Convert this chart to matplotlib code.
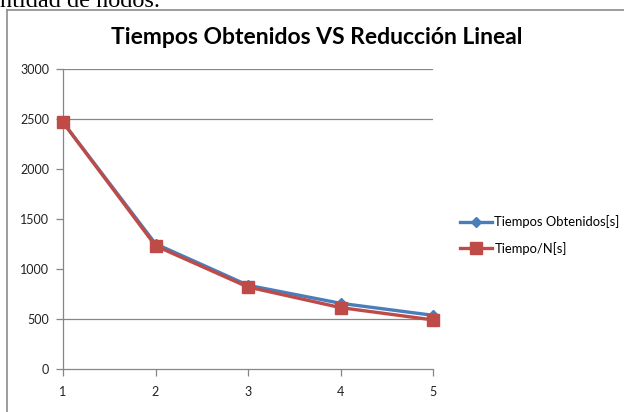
import matplotlib
matplotlib.use("Agg")
import matplotlib.pyplot as plt
from matplotlib.lines import Line2D

# Data
nodos = [1, 2, 3, 4, 5]
tiempos_obtenidos = [2470, 1255, 840, 660, 540]
tiempo_n = [2470, 1235, 823, 617, 494]
y_ticks = [0, 500, 1000, 1500, 2000, 2500, 3000]
grid_levels = [500, 2500, 3000]

W, H = 624, 412
fig = plt.figure(figsize=(W / 100, H / 100), dpi=100)
fig.patch.set_facecolor("white")

ui_font = ["Lato", "DejaVu Sans"]

# Surrounding document text and chart frame
fig.text(0 / W, 1 - 7 / H, "ntidad de nodos.", family="Liberation Serif",
         fontsize=17.5, va="baseline", ha="left", color="black")
frame_color = "#8c8c8c"
fig.add_artist(Line2D([7 / W, 1.0], [1 - 10 / H, 1 - 10 / H],
                      transform=fig.transFigure, color=frame_color, lw=1.2))
fig.add_artist(Line2D([7 / W, 7 / W], [0, 1 - 10 / H],
                      transform=fig.transFigure, color=frame_color, lw=1.2))

ax = fig.add_axes([63 / W, (H - 369.3) / H, (433 - 63) / W, 300 / H])
ax.set_xlim(1, 5)
ax.set_ylim(0, 3000)

for g in grid_levels:
    ax.axhline(g, color="#868686", lw=0.9, zorder=1)

ax.plot(nodos, tiempos_obtenidos, color="#4A7EBB", lw=2.4, marker="D",
        markersize=5.5, markeredgecolor="#4A7EBB", clip_on=False, zorder=3,
        label="Tiempos Obtenidos[s]")
ax.plot(nodos, tiempo_n, color="#BE4B48", lw=2.4, marker="s",
        markersize=8, markeredgecolor="#BE4B48", clip_on=False, zorder=4,
        label="Tiempo/N[s]")

for side in ("top", "right"):
    ax.spines[side].set_visible(False)
for side in ("left", "bottom"):
    ax.spines[side].set_color("#868686")
    ax.spines[side].set_linewidth(0.9)

ax.set_xticks(nodos)
ax.set_yticks(y_ticks)
ax.tick_params(axis="both", colors="#868686", length=5, width=0.9,
               direction="out", labelcolor="#222222", labelsize=9)
ax.tick_params(axis="y", pad=5)
ax.tick_params(axis="x", pad=7)
for lbl in ax.get_xticklabels() + ax.get_yticklabels():
    lbl.set_family(ui_font)

fig.text(317 / W, 1 - 37 / H, "Tiempos Obtenidos VS Reducción Lineal",
         family=ui_font, fontweight="bold", fontsize=16.5,
         ha="center", va="center", color="black")

leg = fig.legend(loc="center left", bbox_to_anchor=(448 / W, 1 - 235 / H),
                 frameon=False, prop={"family": ui_font, "size": 9.4},
                 handlelength=2.5, handletextpad=0.15, labelspacing=1.05)

fig.savefig("out.png", dpi=100, facecolor="white")
